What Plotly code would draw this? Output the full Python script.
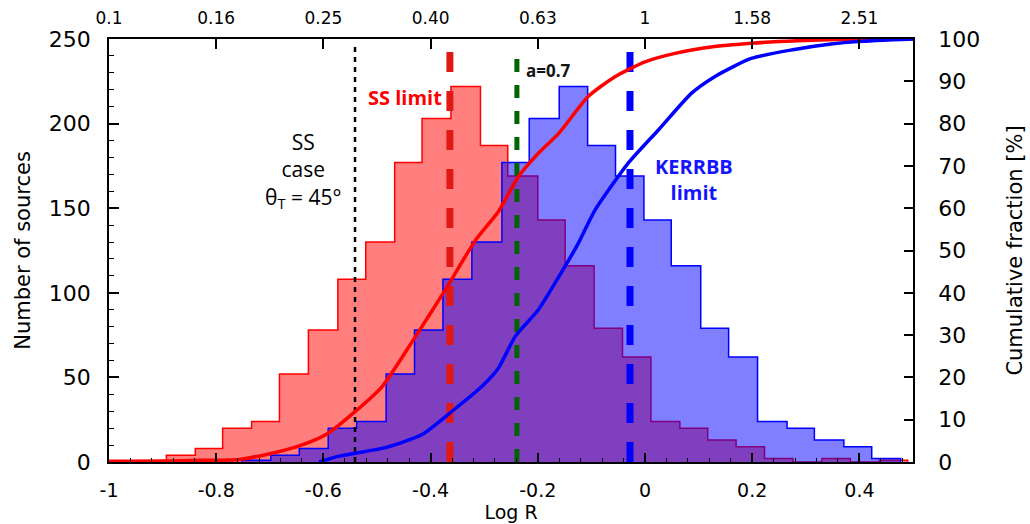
import plotly.graph_objects as go

# ---------------- data ----------------
red_edges = [-1.0, -0.946, -0.893, -0.839, -0.788, -0.734, -0.682, -0.628, -0.573,
             -0.521, -0.467, -0.416, -0.362, -0.307, -0.256, -0.200, -0.149, -0.095,
             -0.042, 0.011, 0.065, 0.117, 0.170, 0.223, 0.276, 0.330, 0.383, 0.437, 0.490]
red_counts = [1, 1, 4, 8, 20, 24, 52, 78, 108, 130, 177, 203, 222, 187, 169, 143, 116,
              79, 62, 24, 20, 13, 9, 2, 0, 2, 0, 1]

blue_edges = [-0.752, -0.698, -0.645, -0.591, -0.538, -0.483, -0.430, -0.377, -0.323,
              -0.267, -0.216, -0.160, -0.107, -0.055, -0.002, 0.049, 0.104, 0.156,
              0.210, 0.265, 0.316, 0.371, 0.423, 0.477]
blue_counts = [1, 4, 8, 20, 24, 52, 78, 108, 130, 177, 203, 222, 187, 169, 143, 116,
               79, 62, 24, 20, 13, 9, 2]

red_cum_x = [-1.0, -0.90, -0.83, -0.757, -0.682, -0.645, -0.595, -0.541, -0.490, -0.428,
             -0.372, -0.316, -0.273, -0.236, -0.199, -0.161, -0.106, -0.056, 0.000,
             0.056, 0.130, 0.198, 0.285, 0.397, 0.500]
red_cum_y = [0, 0.2, 0.4, 0.6, 2.5, 3.8, 6.5, 11.9, 17.9, 29.7, 40.8, 52.5, 59.3, 67.5,
             73.0, 77.7, 86.4, 91.1, 94.6, 96.6, 98.2, 99.0, 99.6, 100, 100]

blue_cum_x = [-0.608, -0.571, -0.484, -0.416, -0.360, -0.304, -0.273, -0.242, -0.199,
              -0.149, -0.124, -0.093, -0.031, 0.025, 0.087, 0.130, 0.198, 0.273, 0.347,
              0.397, 0.500]
blue_cum_y = [0, 1.4, 3.4, 6.5, 12.0, 17.9, 22.3, 29.7, 36.0, 46.3, 51.8, 59.6, 70.7,
              78.5, 87.2, 91.1, 95.4, 97.4, 98.8, 99.4, 100]

bottom_tick_vals = [-1.0, -0.8, -0.6, -0.4, -0.2, 0.0, 0.2, 0.4]
bottom_tick_text = ["-1", "-0.8", "-0.6", "-0.4", "-0.2", "0", "0.2", "0.4"]
top_tick_text = ["0.1", "0.16", "0.25", "0.40", "0.63", "1", "1.58", "2.51"]

ss_case_x = -0.541
ss_limit_x = -0.364
a07_x = -0.239
kerrbb_x = -0.028
vline_top = 246.5
green_top = 242

# ---------------- helpers ----------------
def step_xy(edges, counts):
    xs = [edges[0]] + list(edges) + [edges[-1]]
    ys = [0] + list(counts) + [counts[-1], 0]
    return xs, ys

fig = go.Figure()

rx, ry = step_xy(red_edges, red_counts)
fig.add_trace(go.Scatter(x=rx, y=ry, mode="lines", line=dict(shape="hv", color="rgb(255,0,0)", width=1.5),
                         fill="tozeroy", fillcolor="rgba(255,0,0,0.5)", hoverinfo="skip", showlegend=False))
bx, by = step_xy(blue_edges, blue_counts)
fig.add_trace(go.Scatter(x=bx, y=by, mode="lines", line=dict(shape="hv", color="rgb(0,0,255)", width=1.5),
                         fill="tozeroy", fillcolor="rgba(0,0,255,0.5)", hoverinfo="skip", showlegend=False))

# vertical reference lines
fig.add_trace(go.Scatter(x=[ss_case_x, ss_case_x], y=[0, vline_top], mode="lines",
                         line=dict(color="black", width=2.5, dash="5px,5px"), showlegend=False))
fig.add_trace(go.Scatter(x=[ss_limit_x, ss_limit_x], y=[0, vline_top], mode="lines",
                         line=dict(color="rgb(225,25,20)", width=7, dash="20px,19px"), showlegend=False))
fig.add_trace(go.Scatter(x=[a07_x, a07_x], y=[0, green_top], mode="lines",
                         line=dict(color="rgb(0,100,0)", width=5, dash="13px,13px"), showlegend=False))
fig.add_trace(go.Scatter(x=[kerrbb_x, kerrbb_x], y=[0, vline_top], mode="lines",
                         line=dict(color="rgb(0,0,255)", width=7, dash="20px,19px"), showlegend=False))

# cumulative curves
fig.add_trace(go.Scatter(x=red_cum_x, y=red_cum_y, mode="lines", yaxis="y2",
                         line=dict(color="rgb(255,0,0)", width=3.5, shape="spline", smoothing=0.6),
                         showlegend=False))
fig.add_trace(go.Scatter(x=blue_cum_x, y=blue_cum_y, mode="lines", yaxis="y2",
                         line=dict(color="rgb(0,0,255)", width=3.5, shape="spline", smoothing=0.6),
                         showlegend=False))

# invisible trace for the top axis
fig.add_trace(go.Scatter(x=[-1, 0.5], y=[0, 0], xaxis="x2", mode="lines",
                         line=dict(width=0), hoverinfo="skip", showlegend=False))

tickfont = dict(family="DejaVu Sans", size=22, color="black")
titlefont = dict(family="DejaVu Sans", size=21, color="black")

fig.update_layout(
    width=1030, height=524,
    margin=dict(l=109, r=117, t=39, b=62),
    plot_bgcolor="white", paper_bgcolor="white",
    font=dict(family="DejaVu Sans", color="black"),
    xaxis=dict(range=[-1, 0.5], tickvals=bottom_tick_vals, ticktext=bottom_tick_text, automargin=False,
               ticks="inside", ticklen=9, tickwidth=1.5, tickcolor="black",
               minor=dict(dtick=0.04, tick0=-1, ticks="inside", ticklen=4, tickwidth=1, tickcolor="black"),
               showline=True, linecolor="black", linewidth=1.5, showgrid=False, zeroline=False,
               tickfont=dict(family="DejaVu Sans", size=19, color="black"), ticklabelstandoff=10,
               title=dict(text="Log R", font=dict(family="DejaVu Sans", size=19, color="black"), standoff=6)),
    xaxis2=dict(range=[-1, 0.5], overlaying="x", side="top", tickvals=bottom_tick_vals, ticktext=top_tick_text,
                automargin=False, ticks="inside", ticklen=10, tickwidth=1.5, tickcolor="black",
                showline=True, linecolor="black", linewidth=1.5, showgrid=False, zeroline=False,
                tickfont=dict(family="DejaVu Sans", size=17, color="black"), ticklabelstandoff=6),
    yaxis=dict(range=[0, 250], dtick=50, ticks="inside", ticklen=10, tickwidth=1.5, tickcolor="black",
               automargin=False,
               minor=dict(dtick=10, ticks="inside", ticklen=5, tickwidth=1, tickcolor="black"),
               showline=True, linecolor="black", linewidth=1.5, showgrid=False, zeroline=False,
               tickfont=tickfont, ticklabelstandoff=12,
               title=dict(text="Number of sources", font=titlefont, standoff=12)),
    yaxis2=dict(range=[0, 100], dtick=10, overlaying="y", side="right", ticks="inside", ticklen=9,
                automargin=False,
                tickwidth=1.5, tickcolor="black", showline=True, linecolor="black", linewidth=1.5,
                showgrid=False, zeroline=False, tickfont=tickfont, ticklabelstandoff=19,
                title=dict(text="Cumulative fraction [%]", font=titlefont, standoff=28)),
    annotations=[
        dict(x=-0.448, y=215.6, xref="x", yref="y", text="<b>SS limit</b>", showarrow=False,
             font=dict(family="Open Sans", size=20, color="rgb(255,0,0)")),
        dict(x=-0.638, y=172, xref="x", yref="y", text="SS<br>case<br>θ<sub>T</sub> = 45°", showarrow=False,
             font=dict(family="Open Sans", size=21, color="black")),
        dict(x=-0.226, y=231.5, xref="x", yref="y", text="<b>a=0.7</b>", showarrow=False, xanchor="left",
             font=dict(family="Open Sans", size=17, color="rgb(20,20,20)")),
        dict(x=0.091, y=166.7, xref="x", yref="y", text="<b>KERRBB<br>limit</b>", showarrow=False,
             font=dict(family="Open Sans", size=20, color="rgb(20,20,255)")),
    ],
)

fig.write_html("out.html")
